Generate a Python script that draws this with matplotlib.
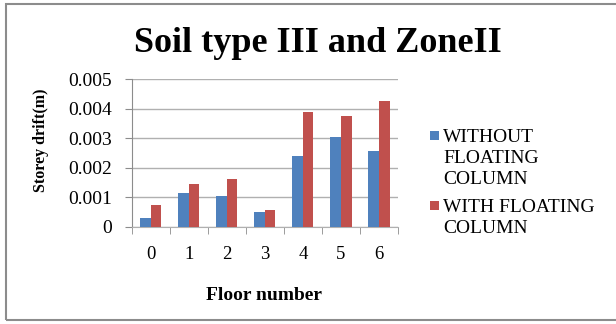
import matplotlib
matplotlib.use("Agg")
import matplotlib.pyplot as plt
import numpy as np
from matplotlib.patches import Rectangle

floors = ["0", "1", "2", "3", "4", "5", "6"]
without_fc = [0.00028, 0.00114, 0.00105, 0.00050, 0.00241, 0.00304, 0.00256]
with_fc = [0.00074, 0.00145, 0.00161, 0.00056, 0.00389, 0.00374, 0.00426]
series_names = ["WITHOUT\nFLOATING\nCOLUMN", "WITH FLOATING\nCOLUMN"]
series_colors = ['#4F81BD', '#C0504D']
yticks = [0, 0.001, 0.002, 0.003, 0.004, 0.005]
ytick_labels = ["0", "0.001", "0.002", "0.003", "0.004", "0.005"]

plt.rcParams['font.family'] = ['Liberation Serif', 'DejaVu Serif']

W, H = 616, 324
fig = plt.figure(figsize=(W / 100, H / 100), dpi=100)
fig.patches.append(Rectangle((5.5 / W, 4 / H), (W + 10) / W, (H - 8) / H, transform=fig.transFigure,
                             fill=False, edgecolor='#8c8c8c', linewidth=1.5))

ax = fig.add_axes([131.5 / W, (H - 226.7) / H, (398 - 131.5) / W, (226.7 - 79.3) / H])
x = np.arange(len(floors))
bw = 0.28
ax.bar(x - bw / 2, without_fc, bw, color=series_colors[0], zorder=3)
ax.bar(x + bw / 2, with_fc, bw, color=series_colors[1], zorder=3)

ax.set_xlim(-0.5, len(floors) - 0.5)
ax.set_ylim(0, 0.005)
ax.set_yticks(yticks)
ax.set_yticklabels(ytick_labels, fontsize=14)
ax.set_xticks(x)
ax.set_xticklabels(floors, fontsize=13.5)
ax.set_xticks(np.arange(-0.5, len(floors)), minor=True)
ax.tick_params(axis='x', which='major', length=0, pad=14)
ax.tick_params(axis='x', which='minor', length=5, color='#8c8c8c')
ax.tick_params(axis='y', length=5, color='#8c8c8c', pad=9)
ax.grid(axis='y', color='#b0b0b0', linewidth=1, zorder=0)
for s in ['top', 'right']:
    ax.spines[s].set_visible(False)
ax.spines['left'].set_color('#8c8c8c')
ax.spines['bottom'].set_color('#b0b0b0')

fig.text(41 / W, 1 - 140 / H, 'Storey drift(m)', fontsize=11.5, fontweight='bold',
         rotation=90, ha='center', va='center')
fig.text(264.5 / W, 1 - 300 / H, 'Floor number', fontsize=14, fontweight='bold',
         ha='center', va='baseline')

fig.text(318 / W, 1 - 52 / H, 'Soil type III and ZoneII', fontsize=26, fontweight='bold',
         ha='center', va='baseline')

# manual legend: square aligned with first line of each label
line_h = 21.3
first_baselines = [141.7, 211.7]
for name, col, yb in zip(series_names, series_colors, first_baselines):
    fig.patches.append(Rectangle((430 / W, 1 - (yb - 2) / H), 9 / W, 9 / H,
                                 transform=fig.transFigure, facecolor=col, edgecolor='none'))
    for k, line in enumerate(name.split('\n')):
        fig.text(443 / W, 1 - (yb + k * line_h) / H, line, fontsize=14,
                 ha='left', va='baseline')

fig.savefig('out.png', dpi=100)
